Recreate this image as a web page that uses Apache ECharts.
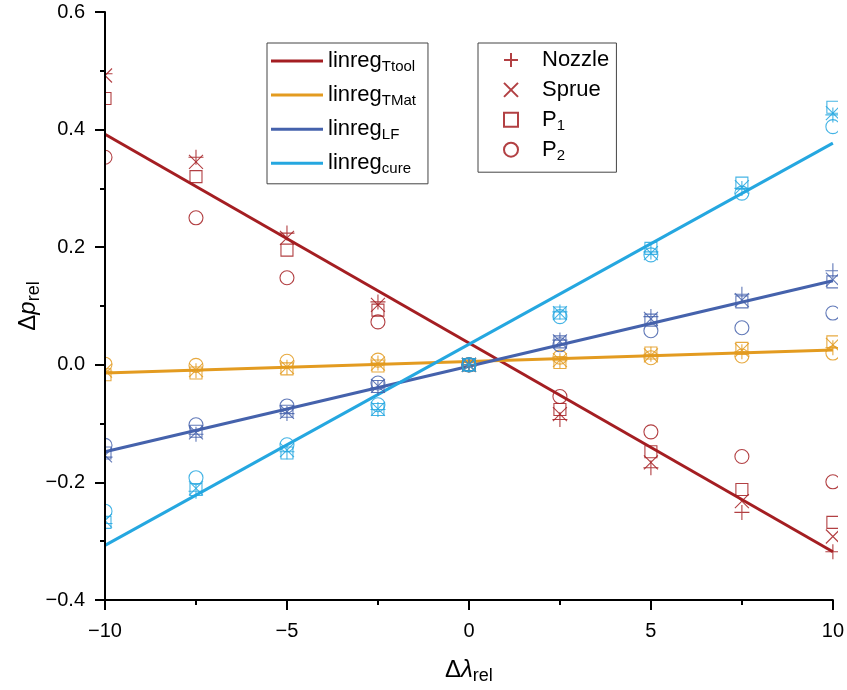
<!DOCTYPE html>
<html>
<head>
<meta charset="utf-8">
<script src="https://cdn.jsdelivr.net/npm/echarts@6/dist/echarts.min.js"></script>
<style>
  html, body { margin: 0; padding: 0; background: #fff; }
  #chart { width: 847px; height: 690px; }
</style>
</head>
<body>
<div id="chart"></div>
<script>
// x positions of the measurements (relative change of each parameter)
var xVals = [-10, -7.5, -5, -2.5, 0, 2.5, 5, 7.5, 10];

// regression lines, value at x = -10 and x = 10
var regX = [-10, 10];
var regTtool = [0.392, -0.318];
var regTMat = [-0.014, 0.025];
var regLF = [-0.148, 0.143];
var regCure = [-0.307, 0.377];

// measured points: Ttool
var ttoolNozzle = [0.495, 0.353, 0.224, 0.107, 0, -0.093, -0.175, -0.251, -0.318];
var ttoolSprue = [0.492, 0.345, 0.216, 0.102, 0, -0.084, -0.166, -0.232, -0.292];
var ttoolP1 = [0.453, 0.320, 0.195, 0.093, 0, -0.076, -0.148, -0.212, -0.268];
var ttoolP2 = [0.353, 0.250, 0.148, 0.073, 0, -0.054, -0.114, -0.156, -0.199];

// TMat
var tmatNozzle = [-0.011, -0.010, -0.004, 0.003, 0, 0.007, 0.018, 0.022, 0.029];
var tmatSprue = [-0.010, -0.009, -0.004, 0.002, 0, 0.008, 0.016, 0.025, 0.034];
var tmatP1 = [-0.017, -0.014, -0.007, -0.002, 0, 0.004, 0.020, 0.028, 0.039];
var tmatP2 = [0.001, -0.001, 0.006, 0.008, 0, 0.013, 0.012, 0.015, 0.020];

// LF
var lfNozzle = [-0.157, -0.118, -0.083, -0.039, 0, 0.042, 0.082, 0.120, 0.160];
var lfSprue = [-0.154, -0.115, -0.080, -0.036, 0, 0.040, 0.078, 0.110, 0.145];
var lfP1 = [-0.150, -0.113, -0.079, -0.037, 0, 0.039, 0.076, 0.107, 0.141];
var lfP2 = [-0.137, -0.102, -0.070, -0.031, 0, 0.034, 0.058, 0.063, 0.088];

// cure
var cureNozzle = [-0.270, -0.215, -0.148, -0.076, 0, 0.090, 0.192, 0.300, 0.425];
var cureSprue = [-0.265, -0.210, -0.145, -0.075, 0, 0.088, 0.190, 0.302, 0.428];
var cureP1 = [-0.268, -0.212, -0.150, -0.076, 0, 0.088, 0.198, 0.309, 0.438];
var cureP2 = [-0.249, -0.192, -0.136, -0.068, 0, 0.082, 0.187, 0.292, 0.405];

var yTicks = [-0.4, -0.2, 0.0, 0.2, 0.4, 0.6];
var xTicks = [-10, -5, 0, 5, 10];

var FONT = '"Liberation Sans", Arial, sans-serif';
var RED = '#a41e22', ORANGE = '#e39b20', BLUE = '#4562ac', CYAN = '#25a7e0';

var SYM_PLUS = 'path://M5,0L5,10M0,5L10,5';
var SYM_CROSS = 'path://M0,0L10,10M10,0L0,10';
var SYM_SQUARE = 'path://M0,0L10,0L10,10L0,10Z';

function pairs(ys) {
  return xVals.map(function (x, i) { return [x, ys[i]]; });
}

function regLine(name, ys, color) {
  return {
    type: 'line',
    name: name,
    data: regX.map(function (x, i) { return [x, ys[i]]; }),
    symbol: 'none',
    lineStyle: { color: color, width: 3 },
    itemStyle: { color: color },
    z: 2,
    silent: true
  };
}

function points(name, ys, color, symbol, size) {
  return {
    type: 'scatter',
    name: name,
    data: pairs(ys),
    symbol: symbol,
    symbolSize: size,
    symbolKeepAspect: true,
    itemStyle: { color: 'rgba(0,0,0,0)', borderColor: color, borderWidth: 1.1, opacity: 0.85 },
    z: 3,
    silent: true
  };
}

var groups = [
  [RED, ttoolNozzle, ttoolSprue, ttoolP1, ttoolP2],
  [ORANGE, tmatNozzle, tmatSprue, tmatP1, tmatP2],
  [BLUE, lfNozzle, lfSprue, lfP1, lfP2],
  [CYAN, cureNozzle, cureSprue, cureP1, cureP2]
];

var series = [
  regLine('Ttool', regTtool, RED),
  regLine('TMat', regTMat, ORANGE),
  regLine('LF', regLF, BLUE),
  regLine('cure', regCure, CYAN)
];
groups.forEach(function (g) {
  series.push(points('Nozzle', g[1], g[0], SYM_PLUS, 15));
  series.push(points('Sprue', g[2], g[0], SYM_CROSS, 14));
  series.push(points('P1', g[3], g[0], SYM_SQUARE, 12));
  series.push(points('P2', g[4], g[0], 'circle', 14));
});

var legendLabels = {
  Ttool: '{m|linreg}{s|Ttool}',
  TMat: '{m|linreg}{s|TMat}',
  LF: '{m|linreg}{s|LF}',
  cure: '{m|linreg}{s|cure}',
  Nozzle: '{m|Nozzle}{s| }',
  Sprue: '{m|Sprue}{s| }',
  P1: '{m|P}{s|1}',
  P2: '{m|P}{s|2}'
};

var legendRich = {
  m: { fontSize: 22, fontFamily: FONT, color: '#000', lineHeight: 26 },
  s: { fontSize: 15, fontFamily: FONT, color: '#000', padding: [12, 0, 0, 0] }
};

var nameRich = {
  d: { fontSize: 24, fontFamily: FONT, color: '#000' },
  i: { fontSize: 24, fontFamily: FONT, fontStyle: 'italic', color: '#000' },
  s: { fontSize: 18, fontFamily: FONT, color: '#000', padding: [12, 0, 0, 0] }
};

function fmtMinus(v, digits) {
  if (Math.abs(v) < 1e-9) v = 0;
  var s = digits ? v.toFixed(digits) : String(Math.round(v));
  return s.replace('-', '\u2212');
}

var axisCommon = {
  z: 10,
  nameMoveOverlap: false,
  axisLine: { show: true, onZero: false, lineStyle: { color: '#000', width: 2 } },
  axisTick: { show: true, inside: false, length: 10, lineStyle: { color: '#000', width: 2 } },
  minorTick: { show: true, splitNumber: 2, length: 5, lineStyle: { color: '#000', width: 2 } },
  splitLine: { show: false },
  axisLabel: { fontSize: 20, fontFamily: FONT, color: '#000' }
};

var chart = echarts.init(document.getElementById('chart'));
chart.setOption({
  animation: false,
  backgroundColor: '#fff',
  grid: { left: 105, right: 13, top: 12, bottom: 89 },
  xAxis: Object.assign({}, axisCommon, {
    type: 'value',
    min: xTicks[0],
    max: xTicks[xTicks.length - 1],
    interval: 5,
    name: '{d|\u0394}{i|\u03bb}{s|rel}',
    nameLocation: 'middle',
    nameGap: 55,
    nameTextStyle: { rich: nameRich },
    axisLabel: Object.assign({}, axisCommon.axisLabel, {
      margin: 21,
      formatter: function (v) { return fmtMinus(v, 0); }
    })
  }),
  yAxis: Object.assign({}, axisCommon, {
    type: 'value',
    min: yTicks[0],
    max: yTicks[yTicks.length - 1],
    interval: 0.2,
    name: '{d|\u0394}{i|p}{s|rel}',
    nameLocation: 'middle',
    nameGap: 62,
    nameTextStyle: { rich: nameRich },
    axisLabel: Object.assign({}, axisCommon.axisLabel, {
      margin: 20,
      formatter: function (v) { return fmtMinus(v, 1); }
    })
  }),
  // markers are cut at the frame of the plot, as in the original figure
  graphic: [
    { type: 'rect', z: 5, silent: true, shape: { x: 88, y: 0, width: 16, height: 601 }, style: { fill: '#fff' } },
    { type: 'rect', z: 5, silent: true, shape: { x: 838, y: 0, width: 9, height: 600 }, style: { fill: '#fff' } }
  ],
  legend: [
    {
      data: ['Ttool', 'TMat', 'LF', 'cure'].map(function (n) { return { name: n, icon: 'rect' }; }),
      orient: 'vertical',
      left: 267,
      top: 43,
      padding: [7, 12, 7, 4],
      itemGap: 9.6,
      itemWidth: 52,
      itemHeight: 3,
      selectedMode: false,
      borderColor: '#444',
      borderWidth: 1,
      z: 12,
      formatter: function (name) { return legendLabels[name]; },
      textStyle: { fontSize: 22, fontFamily: FONT, color: '#000', rich: legendRich }
    },
    {
      data: ['Nozzle', 'Sprue', 'P1', 'P2'],
      orient: 'vertical',
      left: 478,
      top: 43,
      padding: [6, 3, 9, 25],
      itemGap: 5.4,
      itemWidth: 52,
      itemHeight: 14,
      selectedMode: false,
      borderColor: '#444',
      borderWidth: 1,
      z: 12,
      formatter: function (name) { return legendLabels[name]; },
      textStyle: { fontSize: 22, fontFamily: FONT, color: '#000', rich: legendRich }
    }
  ],
  series: series
});
</script>
</body>
</html>
